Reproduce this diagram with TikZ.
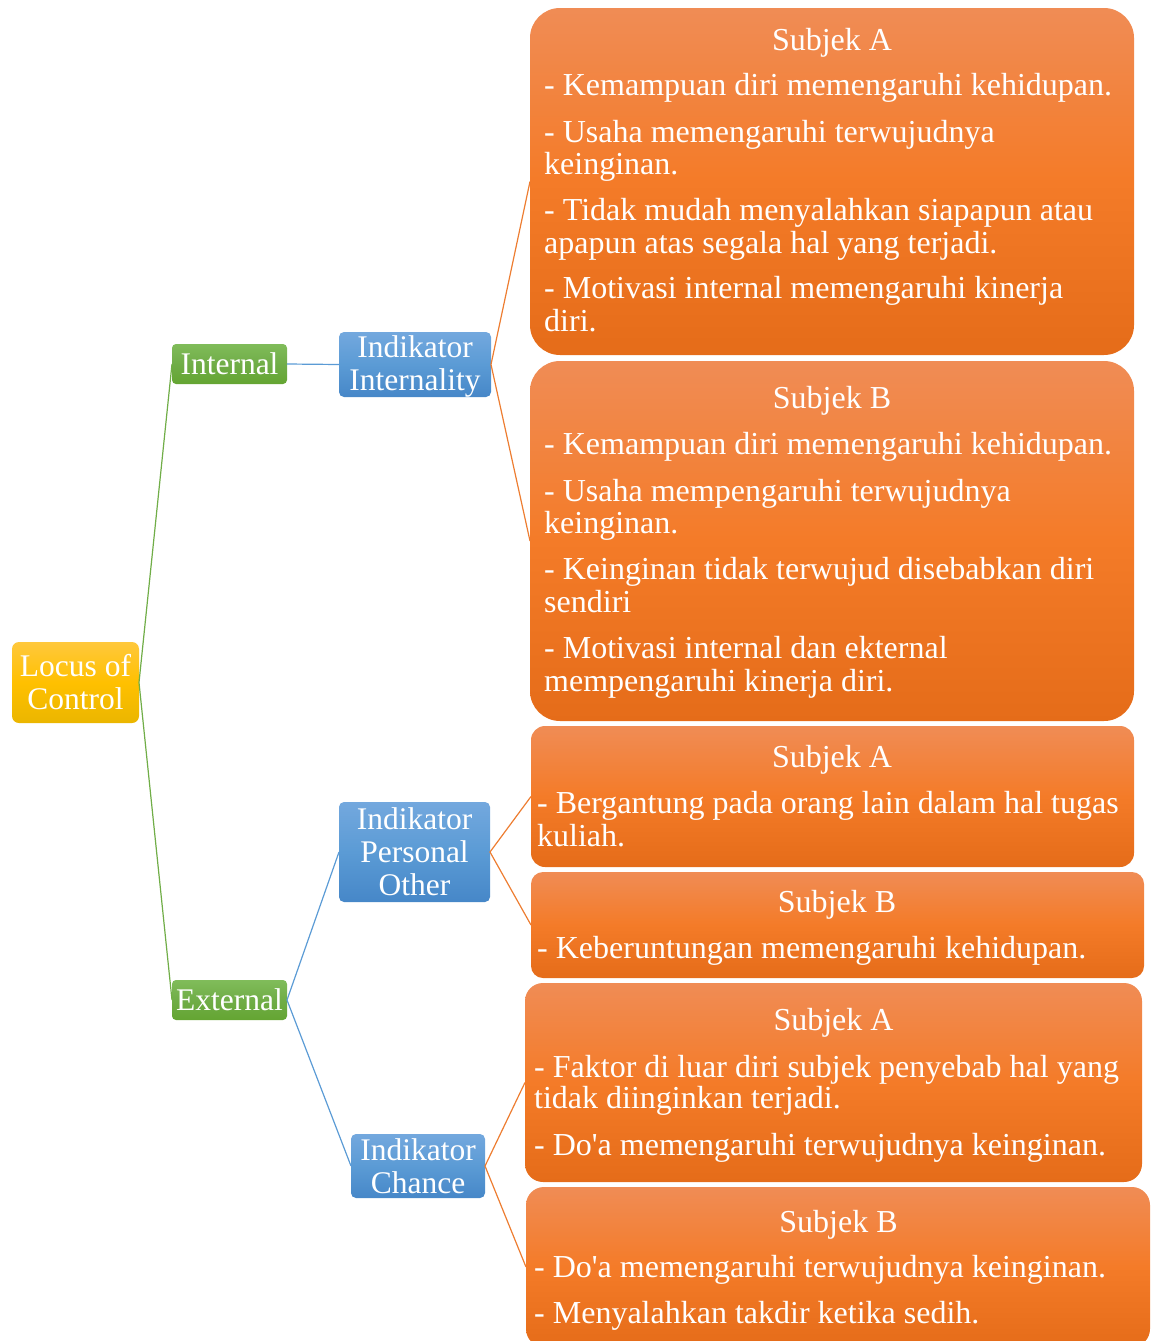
\documentclass[tikz,border=0pt]{standalone}
\usepackage{fontspec}
\setmainfont{Liberation Serif}[Ligatures=TeXOff]
\definecolor{otop}{HTML}{F08C55}
\definecolor{omid}{HTML}{F47B28}
\definecolor{obot}{HTML}{E56C19}
\definecolor{gtop}{HTML}{80BC5A}
\definecolor{gmid}{HTML}{70AD47}
\definecolor{gbot}{HTML}{64A532}
\definecolor{btop}{HTML}{73A8DE}
\definecolor{bmid}{HTML}{5B9BD5}
\definecolor{bbot}{HTML}{4687C8}
\definecolor{ytop}{HTML}{FFC83C}
\definecolor{ymid}{HTML}{FFC000}
\definecolor{ybot}{HTML}{EBB600}
\definecolor{gline}{HTML}{70AD47}
\definecolor{bline}{HTML}{5B9BD5}
\definecolor{oline}{HTML}{ED7D31}
\begin{document}
\begin{tikzpicture}[x=1pt,y=-1pt,
  smallbox/.style={inner sep=0pt, outer sep=0pt, text=white, align=center,
    font=\fontsize{31.5}{33}\selectfont},
  yellowbox/.style={smallbox, rounded corners=7pt, top color=ytop, bottom color=ybot, middle color=ymid},
  greenbox/.style={smallbox, rounded corners=4pt, top color=gtop, bottom color=gbot, middle color=gmid},
  bluebox/.style={smallbox, rounded corners=5pt, top color=btop, bottom color=bbot, middle color=bmid},
  obox/.style={inner sep=0pt, outer sep=0pt, rounded corners=#1, top color=otop, bottom color=obot, middle color=omid},
  txt/.style={inner sep=0pt, text=white, font=\fontsize{32}{33}\selectfont},
  gconn/.style={draw=gline, line width=1.2pt},
  bconn/.style={draw=bline, line width=1.2pt},
  oconn/.style={draw=oline, line width=1.2pt}]
\clip (0,0) rectangle (1151,1341);

% left column nodes
\node[yellowbox, minimum width=127pt, minimum height=81pt] (locus) at (75.5,682.5) {Locus of\\Control};
\node[greenbox, minimum width=115pt, minimum height=40pt] (internal) at (229.5,364) {Internal};
\node[greenbox, minimum width=115pt, minimum height=40pt] (external) at (229.5,1000) {External};
\node[bluebox, minimum width=152pt, minimum height=65pt] (intl) at (415,364.5) {\rule{0pt}{25pt}Indikator\\Internality};
\node[bluebox, minimum width=151pt, minimum height=100pt] (personal) at (414.5,852) {Indikator\\Personal\\Other};
\node[bluebox, minimum width=134pt, minimum height=64pt] (chance) at (418,1166) {Indikator\\Chance};

% orange boxes
\node[obox=30pt, minimum width=604pt, minimum height=347pt] (b1) at (832,181.5) {};
\node[obox=30pt, minimum width=604pt, minimum height=360pt] (b2) at (832,541) {};
\node[obox=14pt, minimum width=603pt, minimum height=141pt] (b3) at (832.5,796.5) {};
\node[obox=12pt, minimum width=613pt, minimum height=106pt] (b4) at (837.5,925) {};
\node[obox=18pt, minimum width=617pt, minimum height=199pt] (b5) at (833.5,1082.5) {};
\node[obox=18pt, minimum width=624pt, minimum height=160pt] (b6) at (838,1267) {};

% box 1 text
\node[txt, anchor=base] (b1h) at (832,50) {Subjek A};
\foreach \y/\t [count=\i] in {95/{- Kemampuan diri memengaruhi kehidupan.},
  142/{- Usaha memengaruhi terwujudnya}, 174/{keinginan.},
  220/{- Tidak mudah menyalahkan siapapun atau}, 253/{apapun atas segala hal yang terjadi.},
  298/{- Motivasi internal memengaruhi kinerja}, 331/{diri.}}
  \node[txt, anchor=base west] (b1l\i) at (544,\y) {\t};

% box 2 text
\node[txt, anchor=base] (b2h) at (832,408) {Subjek B};
\foreach \y/\t [count=\i] in {454/{- Kemampuan diri memengaruhi kehidupan.},
  501/{- Usaha mempengaruhi terwujudnya}, 533/{keinginan.},
  579/{- Keinginan tidak terwujud disebabkan diri}, 612/{sendiri},
  658/{- Motivasi internal dan ekternal}, 691/{mempengaruhi kinerja diri.}}
  \node[txt, anchor=base west] (b2l\i) at (544,\y) {\t};

% box 3 text
\node[txt, anchor=base] (b3h) at (832,767) {Subjek A};
\foreach \y/\t [count=\i] in {813/{- Bergantung pada orang lain dalam hal tugas}, 846/{kuliah.}}
  \node[txt, anchor=base west] (b3l\i) at (537,\y) {\t};

% box 4 text
\node[txt, anchor=base] (b4h) at (837,912) {Subjek B};
\node[txt, anchor=base west] (b4l1) at (537,958) {- Keberuntungan memengaruhi kehidupan.};

% box 5 text
\node[txt, anchor=base] (b5h) at (833.5,1030) {Subjek A};
\foreach \y/\t [count=\i] in {1077/{- Faktor di luar diri subjek penyebab hal yang},
  1108/{tidak diinginkan terjadi.}, 1155/{- Do'a memengaruhi terwujudnya keinginan.}}
  \node[txt, anchor=base west] (b5l\i) at (534,\y) {\t};

% box 6 text
\node[txt, anchor=base] (b6h) at (838.5,1232) {Subjek B};
\foreach \y/\t [count=\i] in {1277/{- Do'a memengaruhi terwujudnya keinginan.},
  1323/{- Menyalahkan takdir ketika sedih.}}
  \node[txt, anchor=base west] (b6l\i) at (534,\y) {\t};

% connectors
\draw[gconn] (internal.west) -- (locus.east) -- (external.west);
\draw[bconn] (internal.east) -- (intl.west);
\draw[bconn] (personal.west) -- (external.east) -- (chance.west);
\draw[oconn] (b1.west) -- (intl.east) -- (b2.west);
\draw[oconn] (b3.west) -- (personal.east) -- (b4.west);
\draw[oconn] (b5.west) -- (chance.east) -- (b6.west);
\end{tikzpicture}
\end{document}
